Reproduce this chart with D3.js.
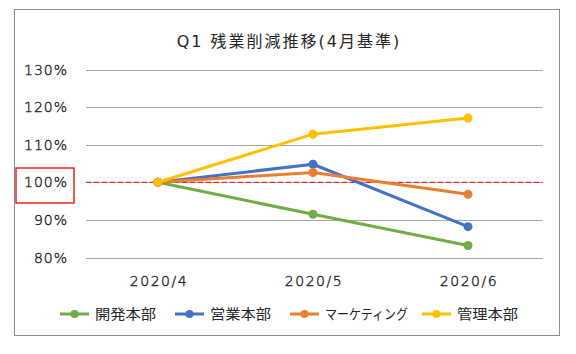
<!DOCTYPE html>
<html>
<head>
<meta charset="utf-8">
<script src="https://cdn.jsdelivr.net/npm/d3@7"></script>
<style>
  body { margin: 0; background: #fff; }
  text { font-family: "DejaVu Sans", "Noto Sans CJK JP", sans-serif; fill: #262626; }
  .num { font-weight: 300; stroke: #262626; stroke-width: 0.4px; }
</style>
</head>
<body>
<div id="chart"></div>
<script>
// データ
const months = ['2020/4', '2020/5', '2020/6'];
const seriesNames = ['開発本部', '営業本部', 'マーケティング', '管理本部'];
const kaihatsu = [1.00, 0.915, 0.832];
const eigyo = [1.00, 1.048, 0.882];
const marketing = [1.00, 1.026, 0.968];
const kanri = [1.00, 1.128, 1.171];
const yTicks = [0.8, 0.9, 1.0, 1.1, 1.2, 1.3];
const colors = ['#70AD47', '#4472C4', '#ED7D31', '#FFC000'];

const series = [kaihatsu, eigyo, marketing, kanri].map((v, i) => ({ name: seriesNames[i], values: v, color: colors[i] }));

const W = 576, H = 354;
const svg = d3.select('#chart').append('svg').attr('width', W).attr('height', H);

// 外枠
svg.append('rect')
  .attr('x', 14.5).attr('y', 9.5).attr('width', 545).attr('height', 326)
  .attr('fill', '#fff').attr('stroke', '#8c8c8c').attr('stroke-width', 1);

// タイトル
svg.append('text')
  .attr('x', 289).attr('y', 47)
  .attr('text-anchor', 'middle')
  .style('font-size', '16px')
  .style('letter-spacing', '2px')
  .text('Q1 残業削減推移(4月基準)');

// スケール
const x = d3.scalePoint().domain(months).range([158, 468]);
const y = d3.scaleLinear().domain([0.8, 1.3]).range([257.5, 69.5]);
const gridX0 = 86, gridX1 = 543;

// グリッド線
svg.append('g').selectAll('line')
  .data(yTicks)
  .join('line')
  .attr('x1', gridX0).attr('x2', gridX1)
  .attr('y1', d => Math.round(y(d)) + 0.5).attr('y2', d => Math.round(y(d)) + 0.5)
  .attr('stroke', '#a6a6a6').attr('stroke-width', 1);

// Y軸ラベル
svg.append('g').selectAll('text')
  .data(yTicks)
  .join('text')
  .attr('class', 'num')
  .attr('x', 68).attr('y', d => y(d) + 5)
  .attr('text-anchor', 'end')
  .style('font-size', '14px')
  .style('letter-spacing', '1px')
  .text(d => d3.format('.0%')(d));

// X軸ラベル
svg.append('g').selectAll('text')
  .data(months)
  .join('text')
  .attr('class', 'num')
  .attr('x', d => x(d) + 1).attr('y', 286)
  .attr('text-anchor', 'middle')
  .style('font-size', '14px')
  .style('letter-spacing', '1.5px')
  .text(d => d);

// 100% の基準線（赤破線）
svg.append('line')
  .attr('x1', gridX0).attr('x2', gridX1)
  .attr('y1', y(1.0)).attr('y2', y(1.0))
  .attr('stroke', '#ff0000').attr('stroke-width', 1)
  .attr('stroke-dasharray', '5,3');

// 100% ラベルの赤枠
svg.append('rect')
  .attr('x', 16).attr('y', 168).attr('width', 58).attr('height', 35)
  .attr('fill', 'none').attr('stroke', '#ee2222').attr('stroke-width', 1.5);

// 折れ線
const line = d3.line().x((d, i) => x(months[i])).y(d => y(d));
const g = svg.append('g');
series.forEach(s => {
  g.append('path')
    .datum(s.values)
    .attr('d', line)
    .attr('fill', 'none')
    .attr('stroke', s.color)
    .attr('stroke-width', 3)
    .attr('stroke-linejoin', 'round');
  g.selectAll(null)
    .data(s.values)
    .join('circle')
    .attr('cx', (d, i) => x(months[i]))
    .attr('cy', d => y(d))
    .attr('r', 4.5)
    .attr('fill', s.color);
});

// 凡例
const legendX = [60, 175, 290, 422];
const legendTextW = [61, 61, 83, 61];
const leg = svg.append('g').selectAll('g')
  .data(series)
  .join('g')
  .attr('transform', (d, i) => `translate(${legendX[i]},314)`);
leg.append('line')
  .attr('x1', 0).attr('x2', 29)
  .attr('stroke', d => d.color).attr('stroke-width', 3);
leg.append('circle')
  .attr('cx', 14.5).attr('r', 4).attr('fill', d => d.color);
leg.append('text')
  .attr('x', 35).attr('y', 5)
  .style('font-size', '14px')
  .attr('textLength', (d, i) => legendTextW[i])
  .attr('lengthAdjust', 'spacingAndGlyphs')
  .text(d => d.name);
</script>
</body>
</html>
